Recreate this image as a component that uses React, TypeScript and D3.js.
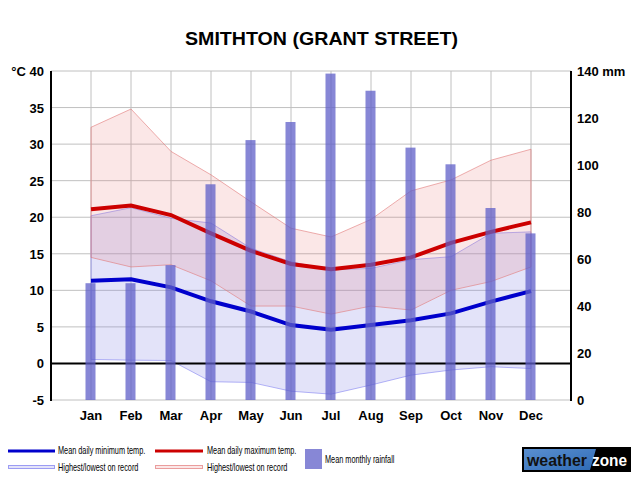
import React from 'react';
import * as d3 from 'd3';

const months = ['Jan', 'Feb', 'Mar', 'Apr', 'May', 'Jun', 'Jul', 'Aug', 'Sep', 'Oct', 'Nov', 'Dec'];
const meanMax = [21.1, 21.6, 20.3, 17.8, 15.4, 13.6, 12.9, 13.5, 14.5, 16.5, 18.0, 19.3];
const meanMin = [11.3, 11.5, 10.4, 8.5, 7.1, 5.25, 4.6, 5.25, 5.9, 6.85, 8.45, 9.9];
const maxHigh = [32.3, 34.8, 29.0, 25.8, 22.1, 18.5, 17.3, 19.7, 23.6, 25.1, 27.8, 29.3];
const maxLow = [14.5, 13.2, 13.5, 11.3, 7.85, 7.85, 6.75, 7.85, 7.3, 10.0, 11.2, 13.2];
const minHigh = [20.2, 21.3, 19.85, 19.2, 15.75, 13.9, 12.8, 13.0, 14.2, 14.6, 17.8, 18.0];
const minLow = [0.55, 0.45, 0.4, -2.5, -2.6, -3.8, -4.2, -2.95, -1.6, -0.9, -0.45, -0.7];
const rainfall = [49.7, 49.7, 57.4, 91.8, 110.6, 118.3, 138.9, 131.6, 107.4, 100.3, 81.7, 70.9];
const tempTicks = [-5, 0, 5, 10, 15, 20, 25, 30, 35, 40];
const rainTicks = [0, 20, 40, 60, 80, 100, 120, 140];

const W = 640, H = 480;
const left = 51, right = 571, top = 71, bottom = 400;

const x = d3.scalePoint<string>().domain(months).range([left, right]).padding(1);
const yT = d3.scaleLinear().domain([-5, 40]).range([bottom, top]);
const yR = d3.scaleLinear().domain([0, 140]).range([bottom, top]);

const band = (hi: number[], lo: number[]) =>
  d3.area<number>()
    .x((_, i) => x(months[i])!)
    .y0((_, i) => yT(lo[i]))
    .y1((d) => yT(d))(hi)!;

const line = (vals: number[]) =>
  d3.line<number>().x((_, i) => x(months[i])!).y((d) => yT(d))(vals)!;

const font = 'Arial, "Liberation Sans", Helvetica, sans-serif';

// condensed legend label (the original uses a narrow face)
const Narrow = ({x0, y0, children}: {x0: number; y0: number; children: string}) => (
  <text transform={`translate(${x0},${y0}) scale(0.665,1)`} fontSize={11}>{children}</text>
);

export default function App() {
  const barW = 10;
  return (
    <svg width={W} height={H} style={{position: 'absolute', left: 0, top: 0, background: '#fff'}} fontFamily={font}>
      <rect width={W} height={H} fill="#fff" />
      <text x={185} y={45} fontSize={19} fontWeight="bold" textLength={273} lengthAdjust="spacingAndGlyphs">
        SMITHTON (GRANT STREET)
      </text>

      {/* grid */}
      {tempTicks.map((t) => (
        <line key={'h' + t} x1={left} x2={right} y1={yT(t)} y2={yT(t)} stroke="#c0c0c0" strokeWidth={1} />
      ))}
      {months.map((m) => (
        <line key={'v' + m} x1={x(m)} x2={x(m)} y1={top} y2={bottom} stroke="#c0c0c0" strokeWidth={1} />
      ))}

      {/* record bands */}
      <path d={band(minHigh, minLow)} fill="rgba(140,140,230,0.24)" stroke="rgba(120,120,240,0.55)" strokeWidth={1} />
      <path d={band(maxHigh, maxLow)} fill="rgba(230,110,110,0.17)" stroke="rgba(225,120,120,0.6)" strokeWidth={1} />

      {/* zero line */}
      <line x1={left} x2={right} y1={yT(0)} y2={yT(0)} stroke="#000" strokeWidth={2} />

      {/* mean lines */}
      <path d={line(meanMax)} fill="none" stroke="#cc0000" strokeWidth={4} />
      <path d={line(meanMin)} fill="none" stroke="#0000cc" strokeWidth={4} />

      {/* rainfall bars */}
      {rainfall.map((r, i) => (
        <rect key={'b' + i} x={x(months[i])! - barW / 2 - 0.5} width={barW} y={yR(r)} height={bottom - yR(r)}
          fill="rgba(95,95,200,0.75)" />
      ))}

      {/* axes */}
      <line x1={left} x2={left} y1={top} y2={bottom + 1} stroke="#000" strokeWidth={2} />
      <line x1={right} x2={right} y1={top} y2={bottom + 1} stroke="#000" strokeWidth={2} />

      {tempTicks.map((t) => (
        <text key={'tl' + t} x={44} y={yT(t) + 5} textAnchor="end" fontSize={13} fontWeight="bold">
          {t === 40 ? '°C 40' : t}
        </text>
      ))}
      {rainTicks.map((r) => (
        <text key={'rl' + r} x={577} y={yR(r) + 5} fontSize={13} fontWeight="bold">
          {r === 140 ? '140 mm' : r}
        </text>
      ))}
      {months.map((m) => (
        <text key={'ml' + m} x={x(m)} y={420} textAnchor="middle" fontSize={13} fontWeight="bold">{m}</text>
      ))}

      {/* legend */}
      <g>
        <line x1={8} x2={55} y1={451} y2={451} stroke="#0000cc" strokeWidth={3} />
        <Narrow x0={58} y0={454}>Mean daily minimum temp.</Narrow>
        <rect x={8.5} y={465.5} width={46} height={3} fill="rgba(140,140,230,0.24)" stroke="rgba(120,120,240,0.7)" strokeWidth={1} />
        <Narrow x0={58} y0={470.5}>Highest/lowest on record</Narrow>

        <line x1={155} x2={203} y1={451} y2={451} stroke="#cc0000" strokeWidth={3} />
        <Narrow x0={207} y0={454}>Mean daily maximum temp.</Narrow>
        <rect x={155.5} y={465.5} width={47} height={3} fill="rgba(230,110,110,0.17)" stroke="rgba(225,120,120,0.7)" strokeWidth={1} />
        <Narrow x0={207} y0={470.5}>Highest/lowest on record</Narrow>

        <rect x={305} y={449} width={17} height={20} fill="rgba(95,95,200,0.75)" />
        <Narrow x0={325} y0={463}>Mean monthly rainfall</Narrow>
      </g>

      {/* logo */}
      <g>
        <defs>
          <linearGradient id="wzg" x1="0" x2="1" y1="0" y2="1">
            <stop offset="0" stopColor="#5a8fd0" />
            <stop offset="1" stopColor="#2f6bb5" />
          </linearGradient>
        </defs>
        <rect x={522} y={447} width={109} height={25} fill="#000" />
        <path d="M524,449 L596,449 L590,470 L524,470 Z" fill="url(#wzg)" />
        <text x={527} y={466} fontSize={17} fontWeight="bold" fill="#111" textLength={60} lengthAdjust="spacingAndGlyphs">weather</text>
        <text x={592} y={466} fontSize={17} fontWeight="bold" fill="#fff" textLength={35} lengthAdjust="spacingAndGlyphs">zone</text>
      </g>
    </svg>
  );
}
